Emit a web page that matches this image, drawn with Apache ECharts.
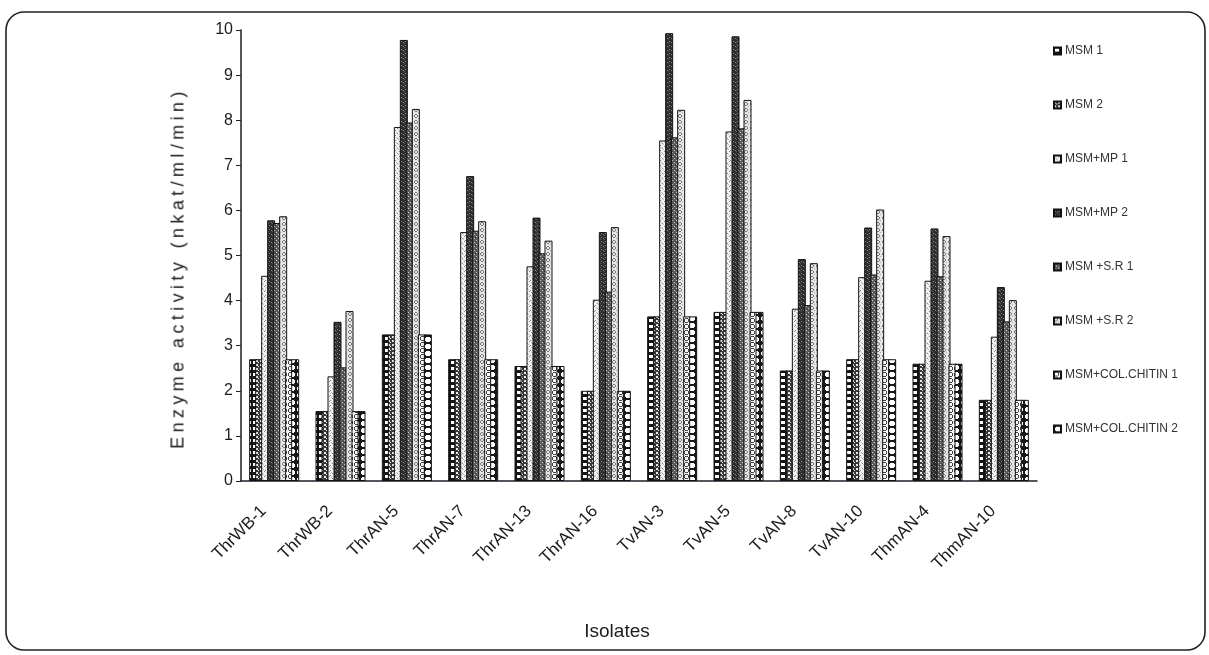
<!DOCTYPE html>
<html>
<head>
<meta charset="utf-8">
<script src="https://cdn.jsdelivr.net/npm/echarts@6/dist/echarts.min.js"></script>
<style>
  html, body { margin: 0; padding: 0; background: #fff; }
  #wrap { position: relative; width: 1209px; height: 655px; }
  #chart { width: 1209px; height: 655px; }
  #ytitle {
    position: absolute; left: 178px; top: 268px;
    transform: translate(-50%, -50%) rotate(-90deg);
    font-family: "Liberation Sans", Arial, sans-serif; font-size: 18px;
    letter-spacing: 4.4px; white-space: nowrap; color: #1c1c1c;
  }
</style>
</head>
<body>
<div id="wrap">
  <div id="chart"></div>
  <div id="ytitle">Enzyme activity (nkat/ml/min)</div>
</div>
<script>
// Isolates on the category axis
const categories = ['ThrWB-1', 'ThrWB-2', 'ThrAN-5', 'ThrAN-7', 'ThrAN-13', 'ThrAN-16',
  'TvAN-3', 'TvAN-5', 'TvAN-8', 'TvAN-10', 'ThmAN-4', 'ThmAN-10'];

// Enzyme activity (nkat/ml/min) per medium, two replicates each
const msm1   = [2.70, 1.55, 3.25, 2.70, 2.55, 2.00, 3.65, 3.75, 2.45, 2.70, 2.60, 1.80];
const msm2   = [2.70, 1.55, 3.25, 2.70, 2.55, 2.00, 3.65, 3.75, 2.45, 2.70, 2.60, 1.80];
const msmMp1 = [4.55, 2.32, 7.85, 5.52, 4.76, 4.02, 7.55, 7.75, 3.82, 4.52, 4.44, 3.20];
const msmMp2 = [5.78, 3.53, 9.78, 6.76, 5.84, 5.52, 9.93, 9.86, 4.92, 5.62, 5.60, 4.30];
const msmSr1 = [5.72, 2.52, 7.95, 5.55, 5.05, 4.20, 7.62, 7.82, 3.90, 4.58, 4.54, 3.54];
const msmSr2 = [5.87, 3.77, 8.25, 5.76, 5.33, 5.63, 8.23, 8.45, 4.83, 6.02, 5.43, 4.01];
const msmCc1 = [2.70, 1.55, 3.25, 2.70, 2.55, 2.00, 3.65, 3.75, 2.45, 2.70, 2.60, 1.80];
const msmCc2 = [2.70, 1.55, 3.25, 2.70, 2.55, 2.00, 3.65, 3.75, 2.45, 2.70, 2.60, 1.80];

const seriesNames = ['MSM 1', 'MSM 2', 'MSM+MP 1', 'MSM+MP 2', 'MSM +S.R 1', 'MSM +S.R 2',
  'MSM+COL.CHITIN 1', 'MSM+COL.CHITIN 2'];
const seriesValues = [msm1, msm2, msmMp1, msmMp2, msmSr1, msmSr2, msmCc1, msmCc2];

const yTicks = [0, 1, 2, 3, 4, 5, 6, 7, 8, 9, 10];

// Monochrome hatch tiles used as bar fills
function tile(w, h, draw) {
  const c = document.createElement('canvas');
  c.width = w; c.height = h;
  draw(c.getContext('2d'), w, h);
  return { image: c, repeat: 'repeat' };
}
const fills = [
  // film-strip squares on black
  tile(6, 6, (g) => { g.fillStyle = '#151515'; g.fillRect(0, 0, 6, 6); g.fillStyle = '#fff'; g.fillRect(1, 1, 4, 3); }),
  // dark checker
  tile(4, 4, (g) => { g.fillStyle = '#3a3a3a'; g.fillRect(0, 0, 4, 4); g.fillStyle = '#e8e8e8'; g.fillRect(0, 0, 2, 2); g.fillRect(2, 2, 1, 1); }),
  // light stipple
  tile(5, 5, (g) => { g.fillStyle = '#f2f2f2'; g.fillRect(0, 0, 5, 5); g.fillStyle = '#8a8a8a'; g.fillRect(0, 0, 1, 1); g.fillRect(2, 3, 1, 1); g.fillRect(4, 1, 1, 1); g.fillStyle = '#c4c4c4'; g.fillRect(3, 4, 1, 1); g.fillRect(1, 2, 1, 1); }),
  // dense dark stipple
  tile(4, 4, (g) => { g.fillStyle = '#2e2e2e'; g.fillRect(0, 0, 4, 4); g.fillStyle = '#8c8c8c'; g.fillRect(1, 1, 1, 1); g.fillRect(3, 2, 1, 1); g.fillStyle = '#5a5a5a'; g.fillRect(0, 3, 1, 1); }),
  // medium dark stipple
  tile(4, 4, (g) => { g.fillStyle = '#5c5c5c'; g.fillRect(0, 0, 4, 4); g.fillStyle = '#cfcfcf'; g.fillRect(0, 0, 1, 1); g.fillRect(2, 2, 1, 1); g.fillStyle = '#2a2a2a'; g.fillRect(3, 1, 1, 1); }),
  // light speckle with grey rings
  tile(6, 6, (g) => { g.fillStyle = '#e6e6e6'; g.fillRect(0, 0, 6, 6); g.fillStyle = '#7a7a7a'; g.fillRect(1, 0, 2, 1); g.fillRect(0, 1, 1, 2); g.fillRect(3, 1, 1, 2); g.fillRect(1, 3, 2, 1); g.fillStyle = '#a8a8a8'; g.fillRect(4, 4, 1, 1); }),
  // open circles
  tile(6, 6, (g) => { g.fillStyle = '#fafafa'; g.fillRect(0, 0, 6, 6); g.fillStyle = '#444'; g.fillRect(1, 0, 3, 1); g.fillRect(0, 1, 1, 3); g.fillRect(4, 1, 1, 3); g.fillRect(1, 4, 3, 1); }),
  // chain of white ovals on black
  tile(8, 7, (g) => { g.fillStyle = '#181818'; g.fillRect(0, 0, 8, 7); g.fillStyle = '#fff'; g.fillRect(2, 1, 4, 5); g.fillRect(1, 2, 6, 3); })
];

const textColor = '#1c1c1c';
const font = '"Liberation Sans", Arial, sans-serif';

const chart = echarts.init(document.getElementById('chart'), null, { renderer: 'canvas' });

chart.setOption({
  animation: false,
  backgroundColor: '#fff',
  graphic: [{
    type: 'rect',
    shape: { x: 6, y: 12, width: 1199, height: 638, r: 18 },
    style: { fill: 'none', stroke: '#222', lineWidth: 1.6 },
    silent: true
  }, {
    type: 'text',
    x: 617,
    y: 632,
    style: {
      text: 'Isolates', fontFamily: font, fontSize: 19, fill: textColor,
      align: 'center', verticalAlign: 'middle'
    },
    silent: true
  }],
  grid: { left: 241, right: 172, top: 30, bottom: 174, containLabel: false },
  legend: {
    orient: 'vertical',
    left: 1048,
    top: 40,
    itemWidth: 7,
    itemHeight: 7,
    itemGap: 42,
    icon: 'rect',
    selectedMode: false,
    textStyle: { fontFamily: font, fontSize: 12, color: '#333', padding: [0, 0, 0, -1] },
    data: seriesNames
  },
  xAxis: {
    type: 'category',
    data: categories,
    axisLine: { lineStyle: { color: '#1e1e2a', width: 1.5 } },
    axisTick: { show: false },
    axisLabel: {
      rotate: 45, margin: 17, padding: [0, 15, 0, 0],
      fontFamily: font, fontSize: 17, color: textColor
    }
  },
  yAxis: {
    type: 'value',
    min: yTicks[0],
    max: yTicks[yTicks.length - 1],
    interval: 1,
    axisLine: { show: true, lineStyle: { color: '#1e1e2a', width: 1.5 } },
    axisTick: { show: true, length: 5, lineStyle: { color: '#1e1e2a' } },
    splitLine: { show: false },
    axisLabel: { fontFamily: font, fontSize: 16, color: textColor, margin: 8 }
  },
  series: seriesNames.map((name, i) => ({
    name: name,
    type: 'bar',
    data: seriesValues[i],
    barWidth: 8,
    barGap: '-25%',
    itemStyle: { color: fills[i], borderColor: '#121212', borderWidth: 1 }
  }))
});
</script>
</body>
</html>
